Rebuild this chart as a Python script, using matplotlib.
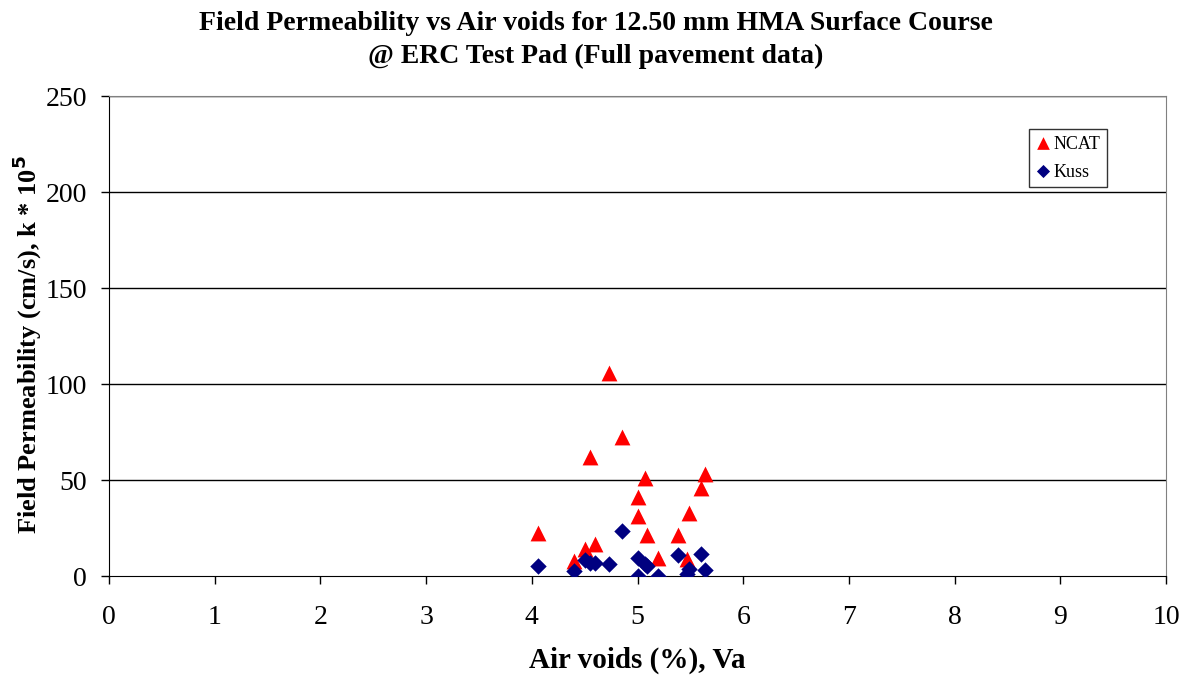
import matplotlib.pyplot as plt

air_voids = [4.73, 4.85, 4.55, 5.07, 5.64, 5.60, 5.00, 5.00, 5.49,
             4.06, 5.09, 5.38, 4.60, 4.50, 4.40, 5.19, 5.47]
ncat_x = air_voids
ncat_k = [105.6, 72.2, 62.0, 51.0, 53.0, 46.0, 41.0, 31.0, 33.0,
          22.5, 21.3, 21.3, 16.8, 14.2, 7.8, 9.2, 9.0]

kuss_x = [4.06, 4.40, 4.50, 4.55, 4.60, 4.73, 4.85, 5.00, 5.00,
          5.07, 5.09, 5.19, 5.38, 5.47, 5.49, 5.60, 5.64]
kuss_k = [5.2, 2.4, 8.2, 7.0, 6.6, 6.1, 23.4, 9.2, 0.0,
          6.4, 5.2, 0.0, 11.1, 0.9, 3.8, 11.3, 3.1]

x_ticks = list(range(0, 11))
y_ticks = [0, 50, 100, 150, 200, 250]

plt.rcParams['font.family'] = ['Liberation Serif', 'DejaVu Serif']

fig = plt.figure(figsize=(11.91, 6.78), dpi=100)
ax = fig.add_axes([109 / 1191, 1 - 576 / 678, (1166 - 109) / 1191, (576 - 96) / 678])

ax.scatter(ncat_x, ncat_k, marker='^', s=130, color='#ff0000', label='NCAT', zorder=3, linewidths=0)
ax.scatter(kuss_x, kuss_k, marker='D', s=70, color='#000080', label='Kuss', zorder=3, linewidths=0)

ax.set_xlim(0, 10)
ax.set_ylim(0, 250)
ax.set_xticks(x_ticks)
ax.set_yticks(y_ticks)
ax.tick_params(axis='both', labelsize=20, direction='out', length=6, width=1, colors='black')
ax.tick_params(axis='x', pad=15)
ax.tick_params(axis='y', pad=10)

for y in y_ticks[1:]:
    ax.axhline(y, color='black', linewidth=1, zorder=1)

ax.spines['left'].set_color('black')
ax.spines['bottom'].set_color('black')
ax.spines['top'].set_color('#808080')
ax.spines['right'].set_color('#808080')

ax.set_xlabel('Air voids (%), Va', fontsize=21, fontweight='bold', labelpad=12)
ax.set_ylabel('Field Permeability (cm/s), k * 10$^{\\mathbf{5}}$', fontsize=19, fontweight='bold', labelpad=1)
ax.yaxis.label.set_y(0.481)

fig.text(0.5, 1 - 11 / 678, 'Field Permeability vs Air voids for 12.50 mm HMA Surface Course\n@ ERC Test Pad (Full pavement data)',
         ha='center', va='top', fontsize=20, fontweight='bold', linespacing=1.4)

leg = ax.legend(loc='upper right', bbox_to_anchor=(1107 / 1191, 1 - 129 / 678), bbox_transform=fig.transFigure,
                fontsize=13, frameon=True, fancybox=False, edgecolor='black', handletextpad=0.2,
                handlelength=0.8, borderpad=0.35, labelspacing=0.55, markerscale=0.8,
                borderaxespad=0, handleheight=0.9)
leg.get_frame().set_linewidth(1)

fig.savefig('out.png', dpi=100)
